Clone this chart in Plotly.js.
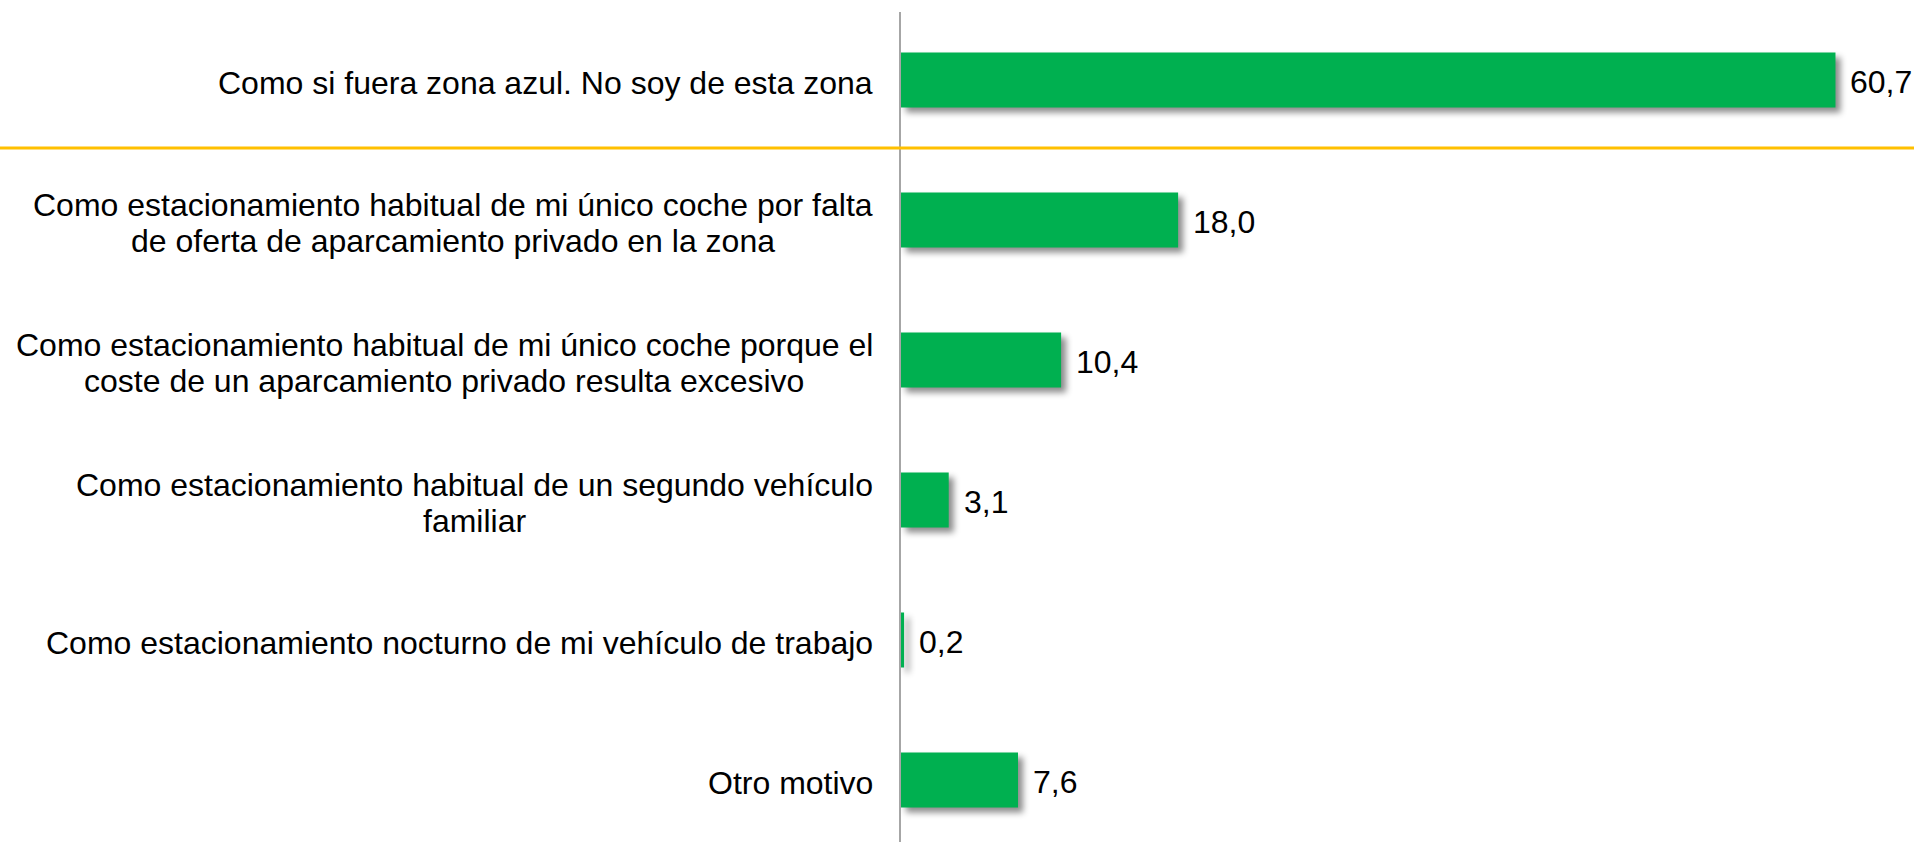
<!DOCTYPE html>
<html>
<head>
<meta charset="utf-8">
<script src="https://cdn.plot.ly/plotly-3.0.1.min.js"></script>
<style>
html,body{margin:0;padding:0;background:#fff;}
#chart{width:1914px;height:842px;}
.trace.bars .point path{filter:drop-shadow(5px 5px 3px rgba(0,0,0,0.45));}
</style>
</head>
<body>
<div id="chart"></div>
<script>
const categories = [
  "Como si fuera zona azul. No soy de esta zona",
  "Como estacionamiento habitual de mi único coche por falta<br>de oferta de aparcamiento privado en la zona",
  "Como estacionamiento habitual de mi único coche porque el<br>coste de un aparcamiento privado resulta excesivo",
  "Como estacionamiento habitual de un segundo vehículo<br>familiar",
  "Como estacionamiento nocturno de mi vehículo de trabajo",
  "Otro motivo"
];
const values = [60.7, 18.0, 10.4, 3.1, 0.2, 7.6];

const FONT = "Liberation Sans, Arial, sans-serif";
const FS = 32;
const LINE_H = 35.5;
const barColor = "#00B050";

const ctx = document.createElement("canvas").getContext("2d");
ctx.font = FS + "px 'Liberation Sans'";

const trace = {
  type: "bar",
  orientation: "h",
  x: values,
  y: categories,
  marker: {color: barColor, line: {width: 0}},
  hoverinfo: "none"
};

const annotations = [];
categories.forEach((c, i) => {
  const lines = c.split("<br>");
  const W = Math.max(...lines.map(l => ctx.measureText(l).width));
  const n = lines.length;
  lines.forEach((l, k) => {
    annotations.push({
      x: 0, y: c, xref: "x", yref: "y",
      text: l, showarrow: false, xanchor: "center", yanchor: "middle",
      xshift: -(28 + W / 2), yshift: ((n - 1) / 2 - k) * LINE_H - 3,
      font: {family: FONT, size: FS, color: "#000"}
    });
  });
  annotations.push({
    x: values[i], y: c, xref: "x", yref: "y",
    text: values[i].toFixed(1).replace(".", ","), showarrow: false,
    xanchor: "left", yanchor: "middle", xshift: 13, yshift: -2,
    font: {family: FONT, size: FS, color: "#000"}
  });
});

const layout = {
  width: 1914, height: 842,
  margin: {l: 901, r: 0, t: 12, b: 0, pad: 0},
  paper_bgcolor: "#fff", plot_bgcolor: "#fff",
  showlegend: false,
  bargap: 0.607,
  separators: ",.",
  xaxis: {range: [0, 65.8], showgrid: false, zeroline: false, showline: false,
          showticklabels: false, ticks: "", fixedrange: true},
  yaxis: {type: "category", range: [5.443, -0.486], showgrid: false, zeroline: false,
          showline: true, linecolor: "#a6a6a6", linewidth: 2, showticklabels: false,
          ticks: "", fixedrange: true},
  shapes: [{
    type: "line", xref: "paper", yref: "paper",
    x0: -901/1013, x1: 1, y0: 1 - (148 - 12) / 830, y1: 1 - (148 - 12) / 830,
    line: {color: "#FFC000", width: 3}
  }],
  annotations: annotations
};

Plotly.newPlot("chart", [trace], layout, {staticPlot: true, displayModeBar: false});
</script>
</body>
</html>
